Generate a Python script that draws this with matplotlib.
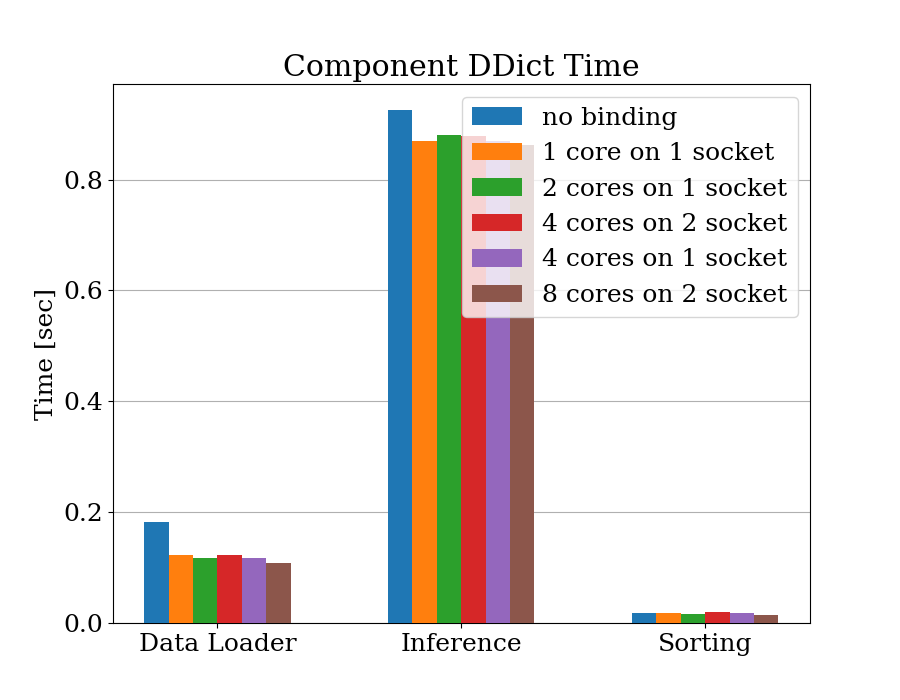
import numpy as np
import matplotlib
matplotlib.use("Agg")
import matplotlib.pyplot as plt

plt.rcParams['font.family'] = 'DejaVu Serif'
plt.rcParams['font.size'] = 18

components = ['Data Loader', 'Inference', 'Sorting']
configs = ['no binding', '1 core on 1 socket', '2 cores on 1 socket',
           '4 cores on 2 socket', '4 cores on 1 socket', '8 cores on 2 socket']

# time per component for each binding config
no_binding = [0.182, 0.926, 0.0186]
core1_sock1 = [0.123, 0.870, 0.0186]
cores2_sock1 = [0.117, 0.881, 0.017]
cores4_sock2 = [0.123, 0.879, 0.020]
cores4_sock1 = [0.117, 0.869, 0.0186]
cores8_sock2 = [0.108, 0.863, 0.015]

series = [no_binding, core1_sock1, cores2_sock1, cores4_sock2, cores4_sock1, cores8_sock2]

fig, ax = plt.subplots(figsize=(9, 7), dpi=100)
x = np.arange(len(components))
width = 0.1
for i, (label, vals) in enumerate(zip(configs, series)):
    ax.bar(x + (i - 2.5) * width, vals, width, label=label, zorder=3)

ax.set_xticks(x)
ax.set_xticklabels(components)
ax.set_ylabel('Time [sec]')
ax.set_title('Component DDict Time')
ax.grid(axis='y', zorder=0)
ax.legend(loc='upper right')

plt.savefig('out.png')
